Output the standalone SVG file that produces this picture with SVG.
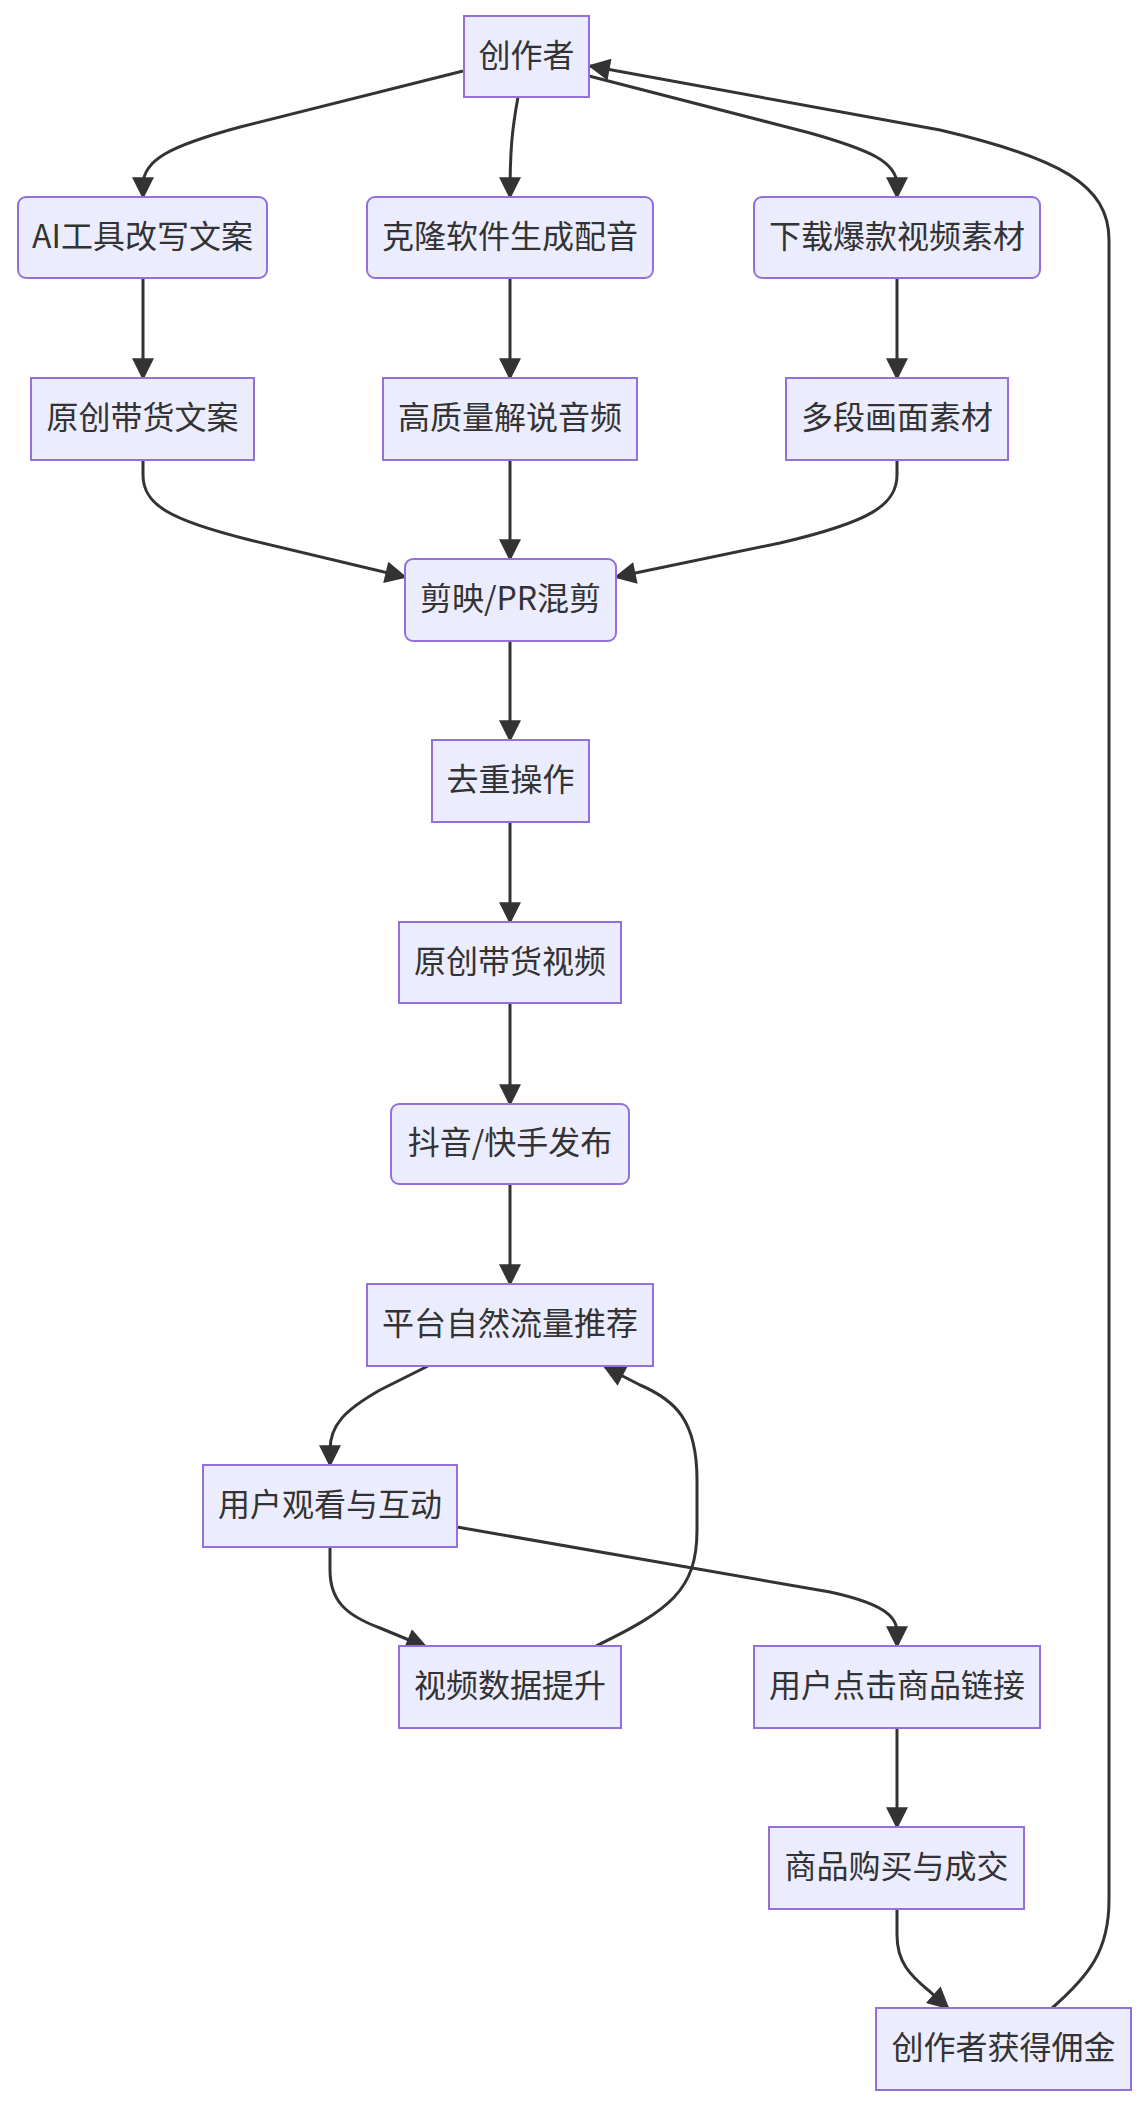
<svg xmlns="http://www.w3.org/2000/svg" width="1148" height="2108" viewBox="0 0 1148 2108">
<style>
.n rect{fill:#ECECFF;stroke:#9370DB;stroke-width:2}
.n text{font-family:"Noto Sans CJK SC","Noto Sans",sans-serif;font-size:32px;fill:#333;text-anchor:middle;dominant-baseline:central}
.e path{fill:none;stroke:#333;stroke-width:3}
</style>
<defs>
<marker id="ah" viewBox="0 0 10 10" refX="9" refY="5" markerWidth="24" markerHeight="22" markerUnits="userSpaceOnUse" orient="auto">
<path d="M0,0 L10,5 L0,10 z" fill="#333"/>
</marker>
</defs>
<rect width="1148" height="2108" fill="#fff"/>
<g class="e">
<path d="M463,71 L240,127 C170,146 143,160 143,185 L143,197" marker-end="url(#ah)"/>
<path d="M518,97 C512,130 510,150 510,197" marker-end="url(#ah)"/>
<path d="M589,76 L810,133 C870,150 897,162 897,185 L897,197" marker-end="url(#ah)"/>
<path d="M1051,2009 C1090,1975 1109,1950 1109,1900 L1109,240 C1109,185 1060,158 940,130 L590,66" marker-end="url(#ah)"/>
<path d="M143,278 L143,378" marker-end="url(#ah)"/>
<path d="M510,278 L510,378" marker-end="url(#ah)"/>
<path d="M897,278 L897,378" marker-end="url(#ah)"/>
<path d="M143,460 L143,475 C143,505 170,520 250,540 L405,577" marker-end="url(#ah)"/>
<path d="M510,460 L510,559" marker-end="url(#ah)"/>
<path d="M897,460 L897,475 C897,505 870,522 780,543 L616,577" marker-end="url(#ah)"/>
<path d="M510,641 L510,740" marker-end="url(#ah)"/>
<path d="M510,822 L510,922" marker-end="url(#ah)"/>
<path d="M510,1003 L510,1104" marker-end="url(#ah)"/>
<path d="M510,1184 L510,1284" marker-end="url(#ah)"/>
<path d="M428,1366 L380,1390 C345,1410 330,1425 330,1450 L330,1465" marker-end="url(#ah)"/>
<path d="M330,1547 L330,1570 C330,1600 345,1615 380,1628 L426,1647" marker-end="url(#ah)"/>
<path d="M596,1646 C670,1610 697,1590 697,1530 L697,1480 C697,1420 675,1400 640,1385 L605,1367" marker-end="url(#ah)"/>
<path d="M457,1527 L830,1592 C880,1603 897,1615 897,1632 L897,1646" marker-end="url(#ah)"/>
<path d="M897,1728 L897,1827" marker-end="url(#ah)"/>
<path d="M897,1909 L897,1935 C897,1962 910,1975 928,1990 L948,2008" marker-end="url(#ah)"/>
</g>
<g id="n1" class="n"><rect x="464" y="16" width="125" height="81"/><text x="526.5" y="53">创作者</text></g>
<g id="n2" class="n"><rect x="18" y="197" width="249" height="81" rx="8"/><text x="142.5" y="234">AI工具改写文案</text></g>
<g id="n3" class="n"><rect x="367" y="197" width="286" height="81" rx="8"/><text x="510" y="234">克隆软件生成配音</text></g>
<g id="n4" class="n"><rect x="754" y="197" width="286" height="81" rx="8"/><text x="897" y="234">下载爆款视频素材</text></g>
<g id="n5" class="n"><rect x="31" y="378" width="223" height="82"/><text x="142.5" y="415">原创带货文案</text></g>
<g id="n6" class="n"><rect x="383" y="378" width="254" height="82"/><text x="510" y="415">高质量解说音频</text></g>
<g id="n7" class="n"><rect x="786" y="378" width="222" height="82"/><text x="897" y="415">多段画面素材</text></g>
<g id="n8" class="n"><rect x="405" y="559" width="211" height="82" rx="8"/><text x="510.5" y="596">剪映/PR混剪</text></g>
<g id="n9" class="n"><rect x="432" y="740" width="157" height="82"/><text x="510.5" y="777">去重操作</text></g>
<g id="n10" class="n"><rect x="399" y="922" width="222" height="81"/><text x="510" y="959">原创带货视频</text></g>
<g id="n11" class="n"><rect x="391" y="1104" width="238" height="80" rx="8"/><text x="510" y="1140">抖音/快手发布</text></g>
<g id="n12" class="n"><rect x="367" y="1284" width="286" height="82"/><text x="510" y="1321">平台自然流量推荐</text></g>
<g id="n13" class="n"><rect x="203" y="1465" width="254" height="82"/><text x="330" y="1502">用户观看与互动</text></g>
<g id="n14" class="n"><rect x="399" y="1646" width="222" height="82"/><text x="510" y="1683">视频数据提升</text></g>
<g id="n15" class="n"><rect x="754" y="1646" width="286" height="82"/><text x="897" y="1683">用户点击商品链接</text></g>
<g id="n16" class="n"><rect x="769" y="1827" width="255" height="82"/><text x="896.5" y="1864">商品购买与成交</text></g>
<g id="n17" class="n"><rect x="876" y="2008" width="255" height="82"/><text x="1003.5" y="2045">创作者获得佣金</text></g>
</svg>
